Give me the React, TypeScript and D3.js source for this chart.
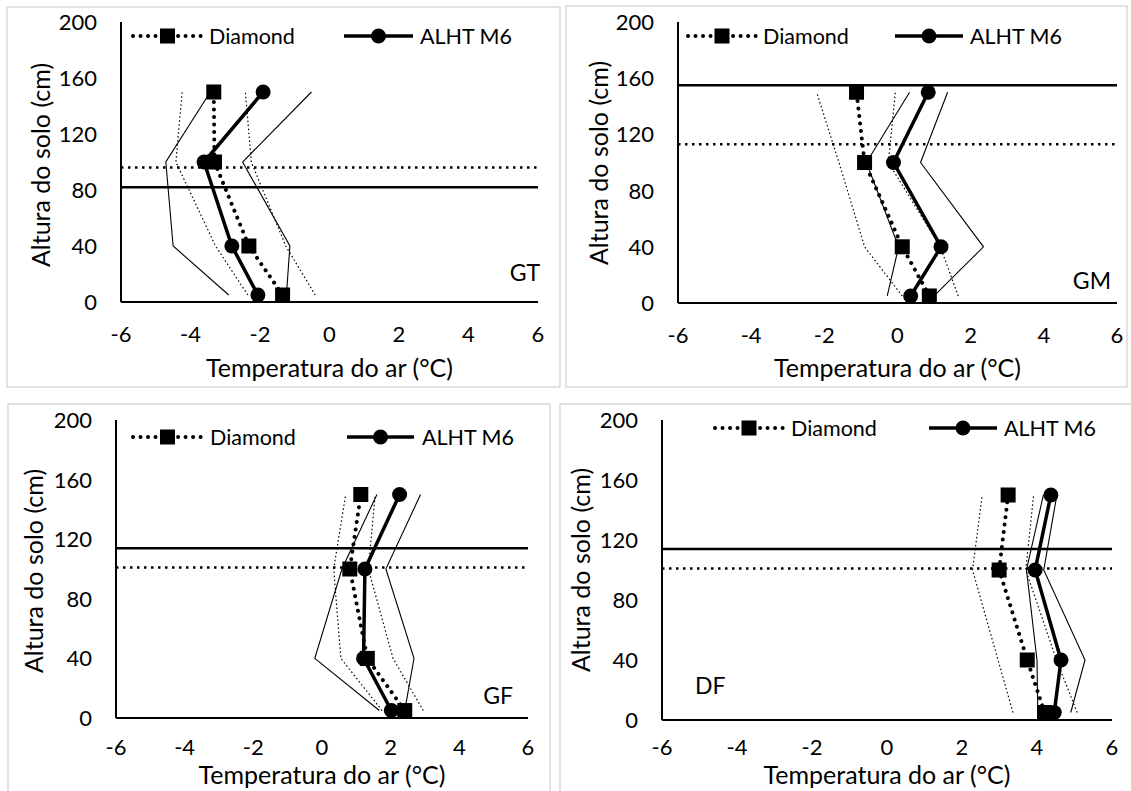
import React from 'react';
import * as d3 from 'd3';

// ---------- data ----------
const heights = [5, 40, 100, 150];
const xTicks = [-6, -4, -2, 0, 2, 4, 6];
const yTicks = [0, 40, 80, 120, 160, 200];
const seriesNames = ['Diamond', 'ALHT M6'];
const panelLabels = ['GT', 'GM', 'GF', 'DF'];
const xTitle = 'Temperatura do ar (°C)';
const yTitle = 'Altura do solo (cm)';

// GT
const gtDiamond = [-1.35, -2.32, -3.31, -3.33];
const gtDiamondLow = [-2.35, -3.28, -4.42, -4.24];
const gtDiamondHigh = [-0.41, -1.26, -2.25, -2.42];
const gtAlht = [-2.06, -2.81, -3.61, -1.91];
const gtAlhtLow = [-2.9, -4.5, -4.71, -3.43];
const gtAlhtHigh = [-1.24, -1.14, -2.5, -0.52];
// GM
const gmDiamond = [0.87, 0.13, -0.9, -1.12];
const gmDiamondLow = [0.13, -0.9, -1.6, -2.21];
const gmDiamondHigh = [1.66, 1.17, -0.25, -0.06];
const gmAlht = [0.36, 1.19, -0.11, 0.84];
const gmAlhtLow = [-0.28, 0.03, -0.85, 0.33];
const gmAlhtHigh = [1.0, 2.35, 0.63, 1.37];
// GF
const gfDiamond = [2.41, 1.32, 0.81, 1.13];
const gfDiamondLow = [1.75, 0.55, 0.34, 0.69];
const gfDiamondHigh = [2.95, 2.07, 1.35, 1.55];
const gfAlht = [2.02, 1.21, 1.25, 2.26];
const gfAlhtLow = [1.67, -0.21, 0.58, 1.6];
const gfAlhtHigh = [2.41, 2.68, 1.86, 2.87];
// DF
const dfDiamond = [4.2, 3.74, 2.99, 3.23];
const dfDiamondLow = [3.36, 2.96, 2.28, 2.54];
const dfDiamondHigh = [5.07, 4.52, 3.7, 3.91];
const dfAlht = [4.46, 4.64, 3.95, 4.37];
const dfAlhtLow = [4.02, 4.0, 3.72, 4.17];
const dfAlhtHigh = [4.9, 5.28, 4.18, 4.53];

// canopy heights (horizontal reference lines)
const canopyDiamond = [96, 113, 101, 101];
const canopyAlht = [82, 155, 114, 114];

const panelData = [
  { d: gtDiamond, dl: gtDiamondLow, dh: gtDiamondHigh, a: gtAlht, al: gtAlhtLow, ah: gtAlhtHigh },
  { d: gmDiamond, dl: gmDiamondLow, dh: gmDiamondHigh, a: gmAlht, al: gmAlhtLow, ah: gmAlhtHigh },
  { d: gfDiamond, dl: gfDiamondLow, dh: gfDiamondHigh, a: gfAlht, al: gfAlhtLow, ah: gfAlhtHigh },
  { d: dfDiamond, dl: dfDiamondLow, dh: dfDiamondHigh, a: dfAlht, al: dfAlhtLow, ah: dfAlhtHigh },
];

// ---------- layout ----------
const layouts = [
  { border: [7, 7, 553, 380], x0: 121, x1: 538, y0: 302, y1: 22, legY: 36, legD: [133, 202], legDText: 209, legA: [344, 413], legAText: 420, labelX: 540, labelY: 281, labelAnchor: 'end', xTickOff: 40, xTitleY: 377, yTitleX: 41, yTitleY: 165 },
  { border: [566, 6, 561, 381], x0: 678, x1: 1117, y0: 303, y1: 22, legY: 36, legD: [688, 756], legDText: 763, legA: [895, 963], legAText: 970, labelX: 1111, labelY: 289, labelAnchor: 'end', xTickOff: 40, xTitleY: 377, yTitleX: 599, yTitleY: 163 },
  { border: [8, 404, 542, 400], x0: 116, x1: 528, y0: 718, y1: 420, legY: 437, legD: [133, 202], legDText: 210, legA: [347, 414], legAText: 422, labelX: 513, labelY: 704, labelAnchor: 'end', xTickOff: 37, xTitleY: 784, yTitleX: 34, yTitleY: 571 },
  { border: [560, 404, 580, 400], x0: 662, x1: 1112, y0: 720, y1: 420, legY: 428, legD: [715, 783], legDText: 791, legA: [929, 997], legAText: 1004, labelX: 695, labelY: 694, labelAnchor: 'start', xTickOff: 35, xTitleY: 784, yTitleX: 581, yTitleY: 570 },
];

const FONT = "Lato, 'Open Sans', sans-serif";
const TICK_SIZE = 22;
const LEG_SIZE = 21.5;
const TITLE_SIZE = 25;
const LABEL_SIZE = 23;

function Panel({ idx }: { idx: number }) {
  const L = layouts[idx];
  const D = panelData[idx];
  const x = d3.scaleLinear().domain([-6, 6]).range([L.x0, L.x1]);
  const y = d3.scaleLinear().domain([0, 200]).range([L.y0, L.y1]);
  const line = d3
    .line<[number, number]>()
    .x((p) => x(p[0]))
    .y((p) => y(p[1]));
  const pts = (vals: number[]) => vals.map((v, i) => [v, heights[i]] as [number, number]);

  const [bx, by, bw, bh] = L.border;

  return (
    <g>
      <rect x={bx} y={by} width={bw} height={bh} fill="#fff" stroke="#d9d9d9" strokeWidth={1.5} />
      {/* canopy horizontal lines */}
      <line x1={x(-6)} x2={x(6)} y1={y(canopyDiamond[idx])} y2={y(canopyDiamond[idx])} stroke="#000" strokeWidth={2.5} strokeDasharray="2.5 4.5" />
      <line x1={x(-6)} x2={x(6)} y1={y(canopyAlht[idx])} y2={y(canopyAlht[idx])} stroke="#000" strokeWidth={2.5} />
      {/* thin bounds */}
      <path d={line(pts(D.dl)) || ''} fill="none" stroke="#000" strokeWidth={1.2} strokeDasharray="1.5 2.5" />
      <path d={line(pts(D.dh)) || ''} fill="none" stroke="#000" strokeWidth={1.2} strokeDasharray="1.5 2.5" />
      <path d={line(pts(D.al)) || ''} fill="none" stroke="#000" strokeWidth={1.1} />
      <path d={line(pts(D.ah)) || ''} fill="none" stroke="#000" strokeWidth={1.1} />
      {/* axes */}
      <line x1={x(-6)} x2={x(-6)} y1={y(0)} y2={y(200)} stroke="#000" strokeWidth={2} />
      <line x1={x(-6)} x2={x(6)} y1={y(0)} y2={y(0)} stroke="#000" strokeWidth={2} />
      {/* Diamond series */}
      <path d={line(pts(D.d)) || ''} fill="none" stroke="#000" strokeWidth={4} strokeLinecap="round" strokeDasharray="0.01 7.5" />
      {pts(D.d).map((p, i) => (
        <rect key={'s' + i} x={x(p[0]) - 7.5} y={y(p[1]) - 7.5} width={15} height={15} fill="#000" />
      ))}
      {/* ALHT series */}
      <path d={line(pts(D.a)) || ''} fill="none" stroke="#000" strokeWidth={3.5} />
      {pts(D.a).map((p, i) => (
        <circle key={'c' + i} cx={x(p[0])} cy={y(p[1])} r={7.5} fill="#000" />
      ))}
      {/* ticks */}
      {yTicks.map((t) => (
        <text key={'y' + t} x={x(-6) - 24} y={y(t)} dy="0.36em" textAnchor="end" fontFamily={FONT} fontSize={TICK_SIZE} fill="#000">
          {t}
        </text>
      ))}
      {xTicks.map((t) => (
        <text key={'x' + t} x={x(t)} y={y(0) + L.xTickOff} textAnchor="middle" fontFamily={FONT} fontSize={TICK_SIZE} fill="#000">
          {t}
        </text>
      ))}
      {/* titles */}
      <text x={(x(-6) + x(6)) / 2} y={L.xTitleY} textAnchor="middle" fontFamily={FONT} fontSize={TITLE_SIZE} fill="#000">
        {xTitle}
      </text>
      <text transform={`translate(${L.yTitleX},${L.yTitleY}) rotate(-90)`} textAnchor="middle" dy="0.35em" fontFamily={FONT} fontSize={TITLE_SIZE} fill="#000">
        {yTitle}
      </text>
      {/* legend */}
      <line x1={L.legD[0]} x2={L.legD[1]} y1={L.legY} y2={L.legY} stroke="#000" strokeWidth={4} strokeLinecap="round" strokeDasharray="0.01 7.5" />
      <rect x={(L.legD[0] + L.legD[1]) / 2 - 7.5} y={L.legY - 7.5} width={15} height={15} fill="#000" />
      <text x={L.legDText} y={L.legY} dy="0.36em" fontFamily={FONT} fontSize={LEG_SIZE} fill="#000">
        {seriesNames[0]}
      </text>
      <line x1={L.legA[0]} x2={L.legA[1]} y1={L.legY} y2={L.legY} stroke="#000" strokeWidth={3.5} />
      <circle cx={(L.legA[0] + L.legA[1]) / 2} cy={L.legY} r={7.5} fill="#000" />
      <text x={L.legAText} y={L.legY} dy="0.36em" fontFamily={FONT} fontSize={LEG_SIZE} fill="#000">
        {seriesNames[1]}
      </text>
      {/* panel label */}
      <text x={L.labelX} y={L.labelY} textAnchor={L.labelAnchor as any} fontFamily={FONT} fontSize={LABEL_SIZE} fill="#000">
        {panelLabels[idx]}
      </text>
    </g>
  );
}

export default function App() {
  return (
    <svg width={1131} height={791} style={{ position: 'absolute', left: 0, top: 0, background: '#fff' }}>
      <rect x={0} y={0} width={1131} height={791} fill="#fff" />
      {[0, 1, 2, 3].map((i) => (
        <Panel key={i} idx={i} />
      ))}
    </svg>
  );
}
